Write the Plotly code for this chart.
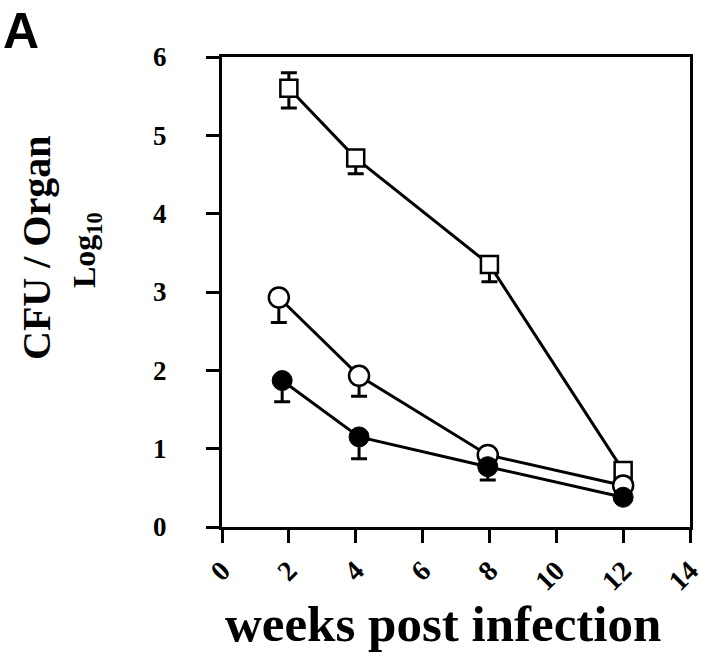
import plotly.graph_objects as go

# Squares
sq_x = [2.0, 4.0, 8.0, 12.0]
sq_y = [5.6, 4.71, 3.35, 0.72]
sq_err_plus = [0.2, 0.0, 0.0, 0.0]
sq_err_minus = [0.25, 0.2, 0.22, 0.0]

# Open circles
oc_x = [1.7, 4.1, 7.95, 12.0]
oc_y = [2.93, 1.93, 0.92, 0.53]
oc_err_plus = [0.0, 0.0, 0.0, 0.0]
oc_err_minus = [0.32, 0.26, 0.0, 0.0]

# Filled circles
fc_x = [1.8, 4.1, 7.95, 12.0]
fc_y = [1.87, 1.15, 0.77, 0.38]
fc_err_plus = [0.0, 0.0, 0.0, 0.0]
fc_err_minus = [0.27, 0.28, 0.17, 0.0]

x_ticks = [0, 2, 4, 6, 8, 10, 12, 14]
y_ticks = [0, 1, 2, 3, 4, 5, 6]

SERIF = "Liberation Serif, DejaVu Serif, serif"

W, H = 720, 672
L, R, T, B = 222, 30, 57, 145
PW, PH = W - L - R, H - T - B


def px2paper(px, py):
    return (px - L) / PW, (H - B - py) / PH


def err(plus, minus):
    return dict(type="data", symmetric=False, array=plus, arrayminus=minus,
                color="black", thickness=3, width=8)


fig = go.Figure()
fig.add_trace(go.Scatter(
    x=sq_x, y=sq_y, mode="lines+markers",
    line=dict(color="black", width=3),
    marker=dict(symbol="square", size=17, color="white", line=dict(color="black", width=2.5)),
    error_y=err(sq_err_plus, sq_err_minus), showlegend=False))
fig.add_trace(go.Scatter(
    x=oc_x, y=oc_y, mode="lines+markers",
    line=dict(color="black", width=3),
    marker=dict(symbol="circle", size=20, color="white", line=dict(color="black", width=2.5)),
    error_y=err(oc_err_plus, oc_err_minus), showlegend=False))
fig.add_trace(go.Scatter(
    x=fc_x, y=fc_y, mode="lines+markers",
    line=dict(color="black", width=3),
    marker=dict(symbol="circle", size=20, color="black", line=dict(color="black", width=1)),
    error_y=err(fc_err_plus, fc_err_minus), showlegend=False))

annots = []
for text, (px, py), size, ang, fam, xa, ya in [
    ("<b>weeks post infection</b>", (443, 624), 51, 0, SERIF, "center", "middle"),
    ("<b>CFU / Organ</b>", (36, 248), 40, -90, SERIF, "center", "middle"),
    ("<b>Log<sub>10</sub></b>", (86, 250), 32, -90, SERIF, "center", "middle"),
    ("<b>A</b>", (1, 1), 50, 0, "Liberation Sans, Arial, sans-serif", "left", "top"),
]:
    x, y = px2paper(px, py)
    annots.append(dict(text=text, x=x, y=y, xref="paper", yref="paper", showarrow=False,
                       textangle=ang, font=dict(family=fam, size=size, color="black"),
                       xanchor=xa, yanchor=ya))

fig.update_layout(
    width=W, height=H,
    margin=dict(l=L, r=R, t=T, b=B),
    paper_bgcolor="white", plot_bgcolor="white",
    font=dict(family=SERIF, color="black"),
    xaxis=dict(range=[0, 14], tickvals=x_ticks, ticktext=["<b>%d</b>" % v for v in x_ticks],
               tickangle=-45, ticks="outside", ticklen=13, tickwidth=3, tickcolor="black",
               ticklabelstandoff=0,
               showline=True, linewidth=3, linecolor="black", mirror=True,
               showgrid=False, zeroline=False,
               tickfont=dict(family=SERIF, size=28, color="black")),
    yaxis=dict(range=[0, 6], tickvals=y_ticks, ticktext=["<b>%d</b>" % v for v in y_ticks],
               ticks="outside", ticklen=13, tickwidth=3, tickcolor="black",
               ticklabelstandoff=34,
               showline=True, linewidth=3, linecolor="black", mirror=True,
               showgrid=False, zeroline=False,
               tickfont=dict(family=SERIF, size=27, color="black")),
    annotations=annots,
)

fig.write_html("out.html", config={"displayModeBar": False},
               post_script="document.body.style.margin='0';document.body.style.padding='0';")
